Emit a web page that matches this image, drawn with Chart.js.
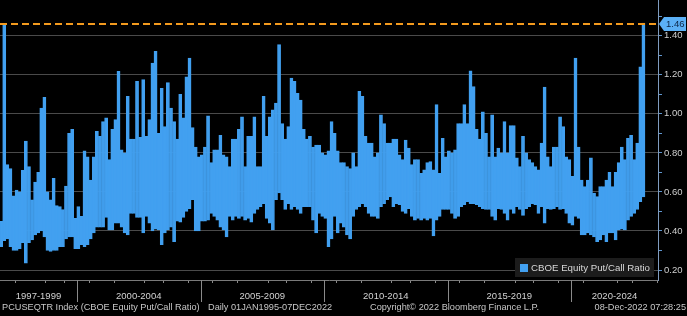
<!DOCTYPE html>
<html>
<head>
<meta charset="utf-8">
<title>PCUSEQTR Index</title>
<script src="https://cdn.jsdelivr.net/npm/chart.js@4.4.1/dist/chart.umd.min.js"></script>
<style>
	html, body { margin: 0; padding: 0; background: #000; }
	#box { width: 687px; height: 316px; }
</style>
</head>
<body>
<div id="box"><canvas id="graficoPutCall" width="687" height="316"></canvas></div>
<script>
// high and low of the daily ratio for each 1/8 of a year
var ratioHigh = [
	0.45, 1.46, 0.74, 0.72, 0.58, 0.61, 0.60, 0.71, 0.86, 0.73,
	0.56, 0.65, 0.70, 1.03, 1.085, 0.60, 0.56, 0.67, 0.53, 0.525,
	0.51, 0.63, 0.90, 0.92, 0.465, 0.525, 0.475, 0.81, 0.78, 0.66,
	0.78, 0.91, 0.885, 0.96, 0.98, 0.765, 0.92, 0.97, 1.217, 0.815,
	0.80, 1.09, 0.87, 0.87, 1.166, 0.88, 1.175, 0.885, 0.97, 1.26,
	1.32, 0.90, 1.13, 0.935, 1.16, 1.03, 0.96, 0.87, 1.10, 0.98,
	1.19, 1.285, 0.93, 0.83, 0.78, 0.79, 0.83, 0.99, 0.75, 0.815,
	0.815, 0.89, 0.79, 0.78, 0.73, 0.87, 0.87, 0.92, 0.985, 0.73,
	0.885, 0.885, 0.985, 0.73, 0.73, 1.09, 0.885, 0.985, 1.02, 1.055,
	1.354, 0.95, 0.87, 0.935, 1.183, 1.166, 1.105, 1.07, 0.92, 0.87,
	0.885, 0.83, 0.84, 0.84, 0.80, 0.79, 0.81, 0.96, 0.90, 0.81,
	0.75, 0.75, 0.73, 0.72, 0.80, 0.73, 1.115, 1.09, 0.885, 0.85,
	0.85, 0.78, 0.80, 0.995, 0.95, 0.85, 0.85, 0.87, 0.87, 0.79,
	0.765, 0.865, 0.825, 0.74, 0.765, 0.765, 0.695, 0.713, 0.75, 0.755,
	0.713, 1.047, 0.695, 0.875, 0.78, 0.81, 0.80, 0.815, 0.95, 0.95,
	1.047, 0.95, 1.22, 1.14, 0.92, 0.87, 1.01, 0.90, 0.78, 0.995,
	0.78, 0.825, 0.80, 0.96, 0.80, 0.94, 0.94, 0.775, 0.73, 0.885,
	0.80, 0.765, 0.75, 0.73, 0.713, 0.85, 1.137, 0.78, 0.73, 0.83,
	0.83, 0.985, 0.935, 0.78, 0.765, 0.68, 1.285, 0.83, 0.66, 0.627,
	0.66, 0.775, 0.594, 0.576, 0.627, 0.627, 0.66, 0.70, 0.627, 0.70,
	0.75, 0.83, 0.765, 0.875, 0.89, 0.765, 0.85, 1.24, 1.465
];
var ratioLow = [
	0.32, 0.35, 0.36, 0.32, 0.30, 0.30, 0.31, 0.34, 0.235, 0.34,
	0.355, 0.38, 0.39, 0.40, 0.37, 0.30, 0.295, 0.30, 0.30, 0.32,
	0.32, 0.36, 0.37, 0.37, 0.31, 0.31, 0.33, 0.32, 0.33, 0.36,
	0.39, 0.42, 0.42, 0.42, 0.47, 0.405, 0.405, 0.44, 0.44, 0.42,
	0.39, 0.38, 0.49, 0.49, 0.47, 0.47, 0.39, 0.475, 0.44, 0.40,
	0.41, 0.405, 0.33, 0.39, 0.405, 0.42, 0.345, 0.45, 0.445, 0.47,
	0.50, 0.515, 0.56, 0.40, 0.40, 0.45, 0.45, 0.455, 0.49, 0.475,
	0.455, 0.42, 0.405, 0.37, 0.475, 0.455, 0.475, 0.465, 0.475, 0.455,
	0.465, 0.445, 0.49, 0.51, 0.525, 0.54, 0.465, 0.44, 0.405, 0.56,
	0.595, 0.56, 0.51, 0.54, 0.51, 0.525, 0.51, 0.49, 0.525, 0.525,
	0.525, 0.455, 0.39, 0.49, 0.475, 0.465, 0.32, 0.36, 0.475, 0.39,
	0.44, 0.42, 0.38, 0.36, 0.475, 0.51, 0.525, 0.54, 0.525, 0.49,
	0.475, 0.475, 0.465, 0.525, 0.54, 0.56, 0.575, 0.525, 0.54, 0.535,
	0.50, 0.49, 0.515, 0.475, 0.455, 0.465, 0.455, 0.465, 0.455, 0.465,
	0.375, 0.455, 0.475, 0.51, 0.51, 0.51, 0.49, 0.465, 0.475, 0.525,
	0.535, 0.55, 0.54, 0.54, 0.535, 0.525, 0.515, 0.51, 0.51, 0.475,
	0.455, 0.515, 0.51, 0.49, 0.455, 0.51, 0.49, 0.525, 0.51, 0.48,
	0.515, 0.525, 0.54, 0.535, 0.49, 0.525, 0.44, 0.515, 0.51, 0.515,
	0.525, 0.51, 0.515, 0.49, 0.44, 0.43, 0.475, 0.465, 0.38, 0.38,
	0.39, 0.38, 0.37, 0.345, 0.355, 0.38, 0.345, 0.39, 0.39, 0.355,
	0.405, 0.41, 0.405, 0.455, 0.475, 0.49, 0.51, 0.55, 0.575
];
var firstDate = 1996.93;   // decimal year of the first column
var dateStep = 1 / 8;
var lastValue = 1.46;

var xMin = 1996.883, xMax = 2023.52;
var yMin = 0.149, yMax = 1.583;
var yTicks = [0.2, 0.3, 0.4, 0.5, 0.6, 0.7, 0.8, 0.9, 1.0, 1.1, 1.2, 1.3, 1.4, 1.5, 1.6];
var yearTicks = [1997, 1998, 1999, 2000, 2001, 2002, 2003, 2004, 2005, 2006, 2007, 2008, 2009,
	2010, 2011, 2012, 2013, 2014, 2015, 2016, 2017, 2018, 2019, 2020, 2021, 2022, 2023];
var periodStarts = [xMin, 2000, 2005, 2010, 2015, 2020];
var periodLabels = ['1997-1999', '2000-2004', '2005-2009', '2010-2014', '2015-2019', '2020-2024'];

var seriesName = 'CBOE Equity Put/Call Ratio';
var footerIndex = 'PCUSEQTR Index (CBOE Equity Put/Call Ratio)';
var footerRange = 'Daily 01JAN1995-07DEC2022';
var footerCopy = 'Copyright\u00A9 2022 Bloomberg Finance L.P.';
var footerStamp = '08-Dec-2022 07:28:25';

var Bbg = Bbg || {};

Bbg.PutCallChart = (function() {

	var BLUE = '#42a0f0';
	var FONT = '"Liberation Sans", Arial, sans-serif';

	// label sits in the middle of the visible part of each period
	var periodMids = periodStarts.map(function(start, i) {
		var end = i + 1 < periodStarts.length ? periodStarts[i + 1] : xMax;
		return (start + end) / 2;
	});

	function isMajor(v) {
		return Math.abs(v * 5 - Math.round(v * 5)) < 1e-6;
	}

	function PutCallChart() {
		this.ctx = document.getElementById('graficoPutCall').getContext('2d');
	}

	var decor = {
		id: 'decor',
		afterDraw: function(chart) {
			var ctx = chart.ctx;
			var area = chart.chartArea;
			var xs = chart.scales.x;
			var ys = chart.scales.y;
			ctx.save();

			// period separators under the axis
			ctx.strokeStyle = '#8a8a8a';
			ctx.lineWidth = 1;
			periodStarts.slice(1).forEach(function(year) {
				var px = Math.round(xs.getPixelForValue(year)) + 0.5;
				ctx.beginPath();
				ctx.moveTo(px, area.bottom);
				ctx.lineTo(px, area.bottom + 22);
				ctx.stroke();
			});

			// footer line
			ctx.fillStyle = '#c8c8c8';
			ctx.font = '9.2px ' + FONT;
			ctx.textBaseline = 'middle';
			ctx.textAlign = 'left';
			ctx.fillText(footerIndex, 2, 307);
			ctx.fillText(footerRange, 208, 307);
			ctx.fillText(footerCopy, 370, 307);
			ctx.textAlign = 'right';
			ctx.fillText(footerStamp, 686, 307);

			// legend box, bottom right inside the plot
			ctx.fillStyle = '#1c1c1c';
			ctx.fillRect(515, 258, 139, 19);
			ctx.fillStyle = BLUE;
			ctx.fillRect(520, 264, 8, 8);
			ctx.fillStyle = '#d8d8d8';
			ctx.font = '9.7px ' + FONT;
			ctx.textAlign = 'left';
			ctx.fillText(seriesName, 531, 268);

			// top axis label, only its lower half shows (as in the original)
			ctx.fillStyle = '#cfcfcf';
			ctx.font = '9.5px ' + FONT;
			ctx.fillText('1.60', area.right + 6, Math.round(ys.getPixelForValue(1.6)));

			// last value tag on the right axis
			var py = Math.round(ys.getPixelForValue(lastValue));
			var left = area.right + 1;
			ctx.fillStyle = '#5bb0f6';
			ctx.beginPath();
			ctx.moveTo(left, py);
			ctx.lineTo(left + 5, py - 7);
			ctx.lineTo(686, py - 7);
			ctx.lineTo(686, py + 7);
			ctx.lineTo(left + 5, py + 7);
			ctx.closePath();
			ctx.fill();
			ctx.fillStyle = '#0b2545';
			ctx.fillText(lastValue.toFixed(2), left + 7, py + 0.5);

			ctx.restore();
		}
	};

	PutCallChart.prototype.iniciar = function() {
		var serie = ratioHigh.map(function(hi, i) {
			return { x: firstDate + i * dateStep, y: [ratioLow[i], hi] };
		});

		new Chart(this.ctx, {
			type: 'bar',
			data: {
				datasets: [{
					type: 'line',
					label: 'last',
					data: [{ x: xMin, y: lastValue }, { x: xMax, y: lastValue }],
					borderColor: '#f39a1e',
					borderWidth: 2,
					borderDash: [7, 4],
					pointRadius: 0,
					order: 0
				}, {
					type: 'bar',
					label: seriesName,
					data: serie,
					backgroundColor: BLUE,
					// border in the same colour so that inflateAmount closes the seams
					borderColor: BLUE,
					borderWidth: 1,
					borderSkipped: false,
					inflateAmount: 0.35,
					barPercentage: 1,
					categoryPercentage: 1,
					order: 1
				}]
			},
			options: {
				responsive: false,
				animation: false,
				events: [],
				layout: { padding: 0 },
				font: { family: FONT },
				plugins: {
					legend: { display: false },
					tooltip: { enabled: false }
				},
				scales: {
					x: {
						type: 'linear',
						min: xMin,
						max: xMax,
						offset: false,
						afterBuildTicks: function(scale) {
							var ticks = yearTicks.concat(periodMids).sort(function(a, b) { return a - b; });
							scale.ticks = ticks.map(function(v) { return { value: v }; });
						},
						afterFit: function(scale) {
							scale.height = 36;
							scale.paddingLeft = 0;
							scale.paddingRight = 0;
						},
						grid: {
							drawOnChartArea: false,
							tickLength: 3,
							tickColor: function(c) {
								return c.tick && periodMids.indexOf(c.tick.value) >= 0 ? 'transparent' : '#8a8a8a';
							}
						},
						border: { color: '#7a7a7a' },
						ticks: {
							autoSkip: false,
							maxRotation: 0,
							color: '#d2d2d2',
							font: { size: 9.5, family: FONT },
							padding: 8,
							callback: function(value) {
								var k = periodMids.indexOf(value);
								return k >= 0 ? periodLabels[k] : '';
							}
						}
					},
					y: {
						type: 'linear',
						position: 'right',
						min: yMin,
						max: yMax,
						afterBuildTicks: function(scale) {
							scale.ticks = yTicks.map(function(v) { return { value: v }; });
						},
						afterFit: function(scale) {
							scale.width = 29;
							scale.paddingTop = 0;
							scale.paddingBottom = 0;
						},
						grid: {
							color: function(c) {
								return c.tick && isMajor(c.tick.value) ? '#4a4a4a' : 'transparent';
							},
							tickColor: '#5f95cf',
							tickLength: 4
						},
						border: { color: '#7f9cbf' },
						ticks: {
							autoSkip: false,
							color: '#cfcfcf',
							font: { size: 9.5, family: FONT },
							padding: 2,
							callback: function(value) {
								return isMajor(value) ? value.toFixed(2) : '';
							}
						}
					}
				}
			},
			plugins: [decor]
		});
	};

	return PutCallChart;

}());

window.addEventListener('load', function() {
	var grafico = new Bbg.PutCallChart();
	grafico.iniciar();
});
</script>
</body>
</html>
